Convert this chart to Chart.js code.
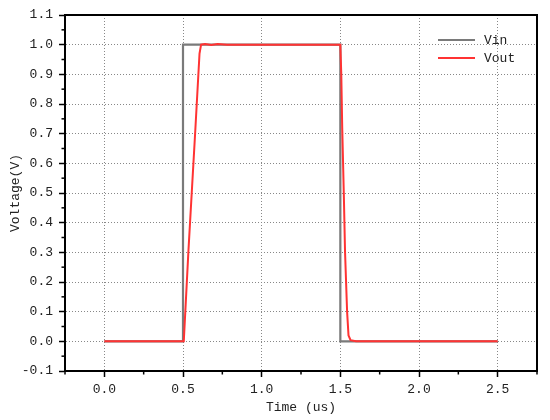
<!DOCTYPE html>
<html>
<head>
<meta charset="utf-8">
<script src="https://cdn.jsdelivr.net/npm/chart.js@4/dist/chart.umd.min.js"></script>
<style>
  html, body { margin: 0; padding: 0; background: #fff; }
</style>
</head>
<body>
<canvas id="chart" width="550" height="420"></canvas>
<script>
/* --------------- Data --------------------- */
const vinTime = [0, 0.5, 0.5, 1.5, 1.5, 2.5];
const vinVolt = [0, 0, 1, 1, 0, 0];
const voutTime = [0, 0.505, 0.535, 0.578, 0.605, 0.615, 0.64, 0.68, 0.72, 0.78, 1.5, 1.506, 1.512, 1.522, 1.53, 1.543, 1.552, 1.565, 1.6, 2.5];
const voutVolt = [0, 0, 0.31, 0.71, 0.97, 1.0, 1.002, 0.999, 1.002, 1.0, 1.0, 0.9, 0.72, 0.5, 0.3, 0.1, 0.02, 0.004, 0, 0];
const seriesNames = ["Vin", "Vout"];
const seriesColors = ["#7a7a7a", "#ff3333"];

const FONT = "'Liberation Mono', 'DejaVu Sans Mono', monospace";
const zip = (xs, ys) => xs.map((x, i) => ({ x: x, y: ys[i] }));
const isMajor = (v, step) => Math.abs(v / step - Math.round(v / step)) < 1e-6;

/* --------------- Frame, minor ticks and legend --------------------- */
const decorations = {
  id: "decorations",
  afterDraw(chart) {
    const ctx = chart.ctx;
    const a = chart.chartArea;
    ctx.save();
    ctx.strokeStyle = "#000";
    ctx.lineWidth = 2;
    ctx.strokeRect(a.left, a.top, a.right - a.left, a.bottom - a.top);

    // minor ticks
    ctx.lineWidth = 1.5;
    const xs = chart.scales.x, ys = chart.scales.y;
    xs.ticks.forEach((t) => {
      if (isMajor(t.value, 0.5)) return;
      const px = xs.getPixelForValue(t.value);
      ctx.beginPath();
      ctx.moveTo(px, a.bottom);
      ctx.lineTo(px, a.bottom + 3.5);
      ctx.stroke();
    });
    ys.ticks.forEach((t) => {
      if (isMajor(t.value, 0.1)) return;
      const py = ys.getPixelForValue(t.value);
      ctx.beginPath();
      ctx.moveTo(a.left, py);
      ctx.lineTo(a.left - 3.5, py);
      ctx.stroke();
    });

    // legend
    ctx.font = "13px " + FONT;
    ctx.textBaseline = "middle";
    seriesNames.forEach((name, i) => {
      const y = a.top + 25 + i * 18;
      ctx.strokeStyle = seriesColors[i];
      ctx.lineWidth = 2;
      ctx.beginPath();
      ctx.moveTo(a.right - 99, y);
      ctx.lineTo(a.right - 62, y);
      ctx.stroke();
      ctx.fillStyle = "#222";
      ctx.fillText(name, a.right - 53, y + 1);
    });
    ctx.restore();
  },
};

/* --------------- Chart --------------------- */
new Chart(document.getElementById("chart"), {
  type: "scatter",
  data: {
    datasets: [
      {
        label: seriesNames[0],
        data: zip(vinTime, vinVolt),
        borderColor: seriesColors[0],
        borderWidth: 2.2,
        showLine: true,
        pointRadius: 0,
        order: 2,
      },
      {
        label: seriesNames[1],
        data: zip(voutTime, voutVolt),
        borderColor: seriesColors[1],
        borderWidth: 2,
        showLine: true,
        pointRadius: 0,
        order: 1,
      },
    ],
  },
  plugins: [decorations],
  options: {
    responsive: false,
    animation: false,
    layout: { padding: { top: 15, right: 13, left: 0, bottom: 0 } },
    plugins: { legend: { display: false }, tooltip: { enabled: false } },
    scales: {
      x: {
        type: "linear",
        min: -0.25,
        max: 2.75,
        afterFit: (s) => { s.height = 49; },
        ticks: {
          stepSize: 0.25,
          autoSkip: false,
          maxRotation: 0,
          padding: 5,
          color: "#222",
          font: { family: FONT, size: 13 },
          callback: (v) => (isMajor(v, 0.5) ? v.toFixed(1) : ""),
        },
        grid: {
          color: (c) => (c.tick && isMajor(c.tick.value, 0.5) && c.tick.value > -0.2 && c.tick.value < 2.7 ? "#888" : "transparent"),
          tickColor: (c) => (c.tick && isMajor(c.tick.value, 0.5) ? "#000" : "transparent"),
          tickLength: 6,
          tickWidth: 1.5,
          lineWidth: 1,
        },
        border: { color: "#000", width: 2, dash: [1, 2] },
        title: {
          display: true,
          text: "Time (us)",
          color: "#222",
          font: { family: FONT, size: 13 },
          padding: { top: 0, bottom: 5 },
        },
      },
      y: {
        type: "linear",
        min: -0.1,
        max: 1.1,
        afterFit: (s) => { s.width = 65; },
        ticks: {
          stepSize: 0.05,
          autoSkip: false,
          padding: 6,
          color: "#222",
          font: { family: FONT, size: 13 },
          callback: (v) => (isMajor(v, 0.1) ? v.toFixed(1) : ""),
        },
        grid: {
          color: (c) => (c.tick && isMajor(c.tick.value, 0.1) && c.tick.value > -0.05 && c.tick.value < 1.05 ? "#888" : "transparent"),
          tickColor: (c) => (c.tick && isMajor(c.tick.value, 0.1) ? "#000" : "transparent"),
          tickLength: 6,
          tickWidth: 1.5,
          lineWidth: 1,
        },
        border: { color: "#000", width: 2, dash: [1, 2] },
        title: {
          display: true,
          text: "Voltage(V)",
          color: "#222",
          font: { family: FONT, size: 13 },
          padding: { top: 8, bottom: 8 },
        },
      },
    },
  },
});
</script>
</body>
</html>
